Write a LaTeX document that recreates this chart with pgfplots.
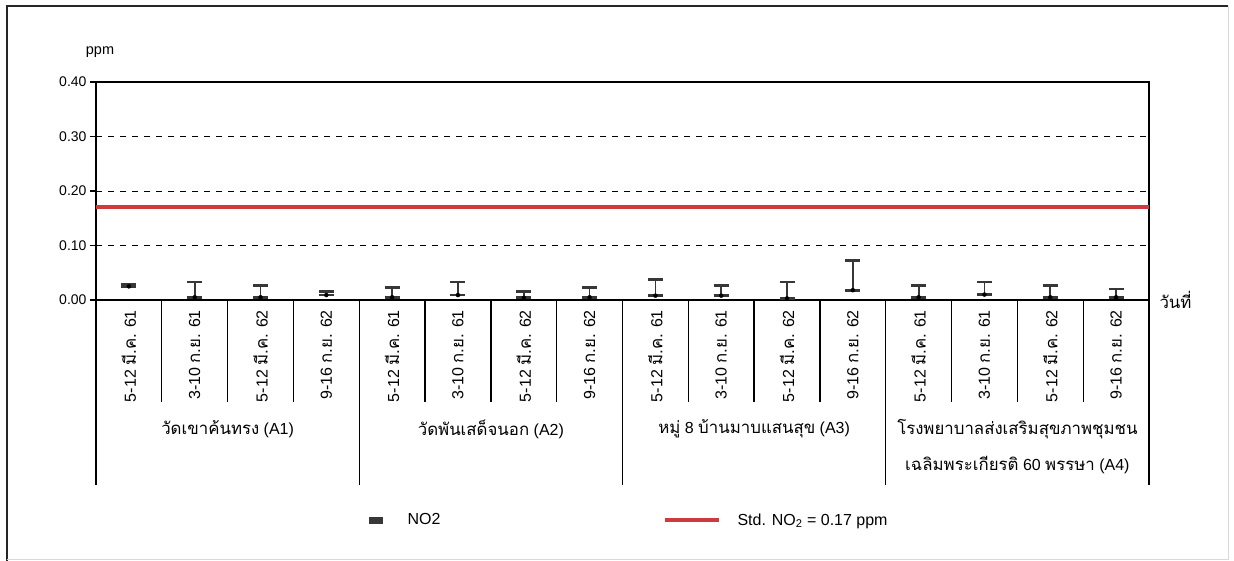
\documentclass[border=0pt]{standalone}
\usepackage{fontspec}
\setmainfont{Liberation Sans}
\newfontfamily\thaifont[Script=Thai, Scale=1.05]{Loma}
\newcommand{\tf}[1]{{\thaifont #1}}
\usepackage{pgfplots}
\pgfplotsset{compat=1.18}
\usepackage{pgfplotstable}
\definecolor{barcol}{RGB}{55,55,55}
\definecolor{stdred}{RGB}{206,58,62}

\pgfplotstableread{
x    lo    hi
0.5  0.025 0.029
1.5  0.005 0.033
2.5  0.005 0.027
3.5  0.009 0.016
4.5  0.005 0.023
5.5  0.009 0.033
6.5  0.004 0.015
7.5  0.005 0.023
8.5  0.008 0.037
9.5  0.008 0.027
10.5 0.003 0.033
11.5 0.018 0.073
12.5 0.005 0.027
13.5 0.010 0.033
14.5 0.005 0.027
15.5 0.005 0.020
}\notwo

\newcommand{\dA}{5-12 \tf{มี.ค.} 61}
\newcommand{\dB}{3-10 \tf{ก.ย.} 61}
\newcommand{\dC}{5-12 \tf{มี.ค.} 62}
\newcommand{\dD}{9-16 \tf{ก.ย.} 62}
\newcommand{\lbl}{\fontsize{16}{18}\selectfont}

\begin{document}
\begin{tikzpicture}[x=1pt,y=1pt]
\path[use as bounding box] (0,0) rectangle (1234,561);
\draw[line width=1.6pt, black!85] (7,0) -- (7,555) -- (1228,555);
\draw[line width=0.8pt, black!15] (1228,555) -- (1228,2) -- (7,2);
\begin{axis}[
  at={(96pt,261pt)}, anchor=origin,
  scale only axis, width=1053pt, height=218pt,
  xmin=0, xmax=16, ymin=0, ymax=0.4,
  clip=false,
  axis line style={line width=1.3pt, black},
  xtick={0.5,1.5,...,15.5},
  xticklabels={\dA,\dB,\dC,\dD,\dA,\dB,\dC,\dD,\dA,\dB,\dC,\dD,\dA,\dB,\dC,\dD},
  x tick label style={rotate=90, anchor=east, font=\lbl, inner sep=0pt},
  xticklabel shift=4pt,
  xtick style={draw=none},
  ytick={0,0.1,0.2,0.3,0.4},
  ytick pos=left, tick align=outside, major tick length=6pt,
  ytick style={line width=1.2pt, black},
  y tick label style={font=\fontsize{14}{16}\selectfont, /pgf/number format/.cd, fixed, fixed zerofill, precision=2, assume math mode=true},
  ymajorgrids, grid style={dash pattern=on 6pt off 6pt, line width=0.9pt, black},
  legend style={draw=none, fill=none, at={(0.2593,-1.009)}, anchor=west,
    font=\lbl, inner sep=0pt, nodes={inner sep=0pt},
    /tikz/every odd column/.append style={column sep=17pt},
    /tikz/every even column/.append style={column sep=222pt}},
  legend columns=2, legend cell align=left,
]
\addplot[only marks, mark=none,
  legend image code/.code={\fill[barcol] (0pt,-3pt) rectangle (13pt,3pt); \path (21pt,0pt);},
  error bars/.cd, y dir=both, y explicit,
  error bar style={line width=1.7pt, draw=barcol},
  error mark options={rotate=90, line width=2.8pt, mark size=7.5pt, draw=barcol}]
  table[x=x, y=lo, y error plus expr=\thisrow{hi}-\thisrow{lo}, y error minus expr=0] {\notwo};
\addlegendentry{NO2}
\addplot[stdred, line width=4pt,
  legend image code/.code={\draw[stdred, line width=4pt] (0pt,0pt) -- (54pt,0pt);}]
  coordinates {(0,0.17) (16,0.17)};
\addlegendentry{Std. NO\textsubscript{2} = 0.17 ppm}

\pgfplotsinvokeforeach{1,2,3,5,6,7,9,10,11,13,14,15}{
  \draw[line width=1.3pt] (axis cs:#1,0) -- (axis cs:#1,-0.1872);
}
\pgfplotsinvokeforeach{0,4,8,12,16}{
  \draw[line width=1.3pt] (axis cs:#1,0) -- (axis cs:#1,-0.3394);
}
\node[font=\lbl] at (axis cs:2,-0.2367) {\tf{วัดเขาค้นทรง} (A1)};
\node[font=\lbl] at (axis cs:6,-0.2367) {\tf{วัดพันเสด็จนอก} (A2)};
\node[font=\lbl] at (axis cs:10,-0.2367) {\tf{หมู่} 8 \tf{บ้านมาบแสนสุข} (A3)};
\node[font=\lbl] at (axis cs:14,-0.2367) {\tf{โรงพยาบาลส่งเสริมสุขภาพชุมชน}};
\node[font=\lbl] at (axis cs:14,-0.3028) {\tf{เฉลิมพระเกียรติ} 60 \tf{พรรษา} (A4)};
\node[font=\lbl, anchor=west] at (axis cs:16,0) [xshift=7pt] {\tf{วันที่}};
\node[font=\fontsize{14.5}{16}\selectfont] at (rel axis cs:0,1) [xshift=4pt, yshift=30pt] {ppm};
\end{axis}
\end{tikzpicture}
\end{document}
